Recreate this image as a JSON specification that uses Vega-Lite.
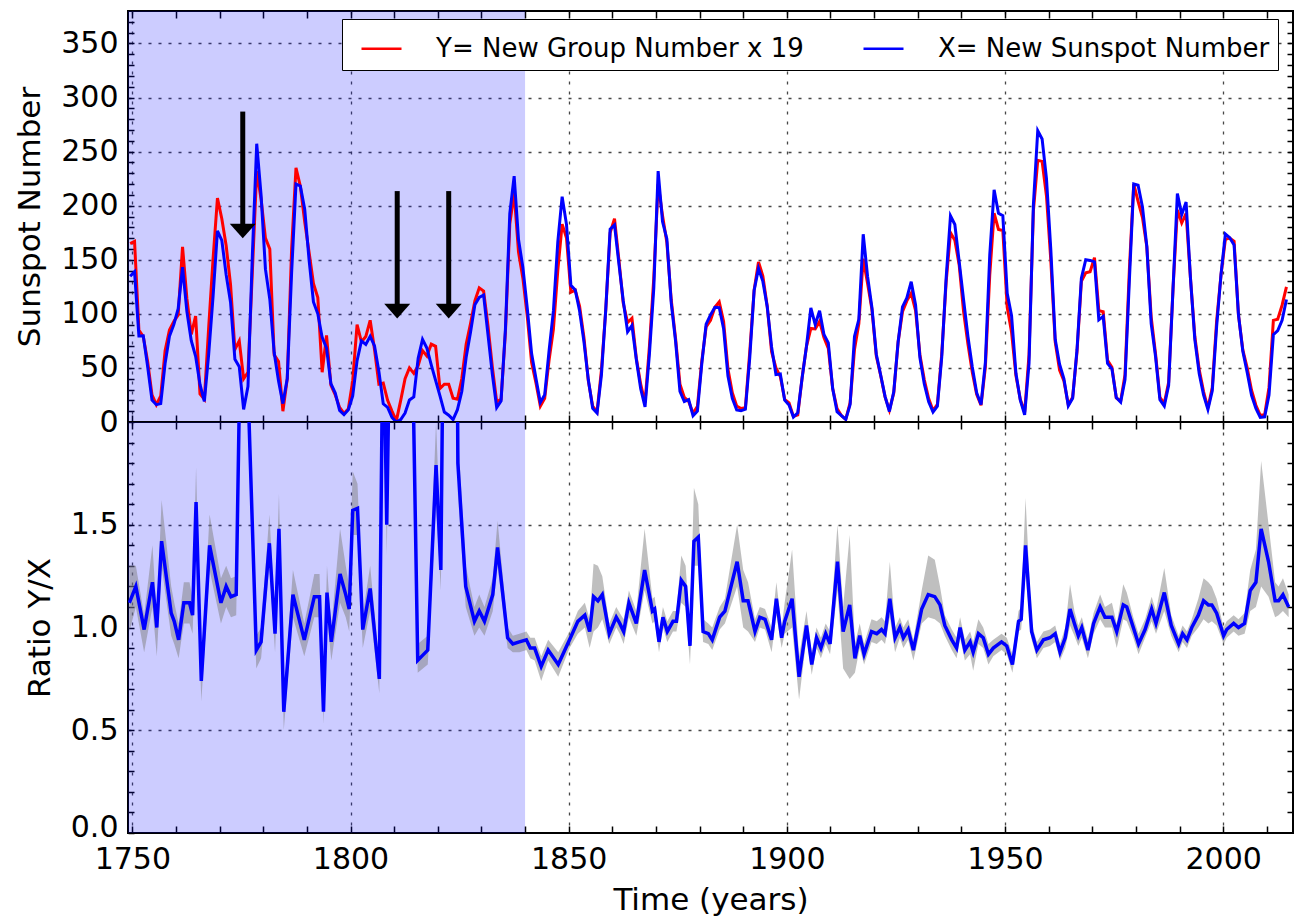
{
  "$schema": "https://vega.github.io/schema/vega-lite/v6.json",
  "padding": {"left": 13, "top": 9, "right": 4, "bottom": 0},
  "background": "white",
  "config": {
    "font": "DejaVu Sans",
    "view": {"stroke": "black", "strokeWidth": 2},
    "axis": {"domain": false, "labelColor": "black", "tickColor": "black", "titleColor": "black", "titleFontWeight": "normal", "labelFontSize": 30, "titleFontSize": 31, "tickWidth": 1.5, "gridColor": "#333333", "gridDash": [3, 7], "gridWidth": 1.3}
  },
  "bounds": "flush",
  "spacing": 0,
  "resolve": {"scale": {"color": "independent"}},
  "datasets": {
    "shade": [{"a": 1749, "b": 1840}],
    "arrows": [
      {"t": 1775.3, "top": 287, "head": 176.6},
      {"t": 1810.7, "top": 213.5, "head": 102.6},
      {"t": 1822.5, "top": 213.5, "head": 102.6}
    ],
    "ssn": [
      {"t":1749.5,"X":134.8,"Y":165},{"t":1750.5,"X":139.0,"Y":167},{"t":1751.5,"X":79.5,"Y":85},{"t":1752.5,"X":79.7,"Y":79},{"t":1753.5,"X":51.2,"Y":56},{"t":1754.5,"X":20.3,"Y":25},{"t":1755.5,"X":16.0,"Y":16},{"t":1756.5,"X":17.0,"Y":24},{"t":1757.5,"X":54.0,"Y":66},{"t":1758.5,"X":79.3,"Y":85},
      {"t":1759.5,"X":90.0,"Y":93},{"t":1760.5,"X":104.8,"Y":99},{"t":1761.5,"X":143.2,"Y":162},{"t":1762.5,"X":102.0,"Y":114},{"t":1763.5,"X":75.2,"Y":81},{"t":1764.5,"X":60.7,"Y":98},{"t":1765.5,"X":34.8,"Y":26},{"t":1766.5,"X":19.0,"Y":21},{"t":1767.5,"X":63.0,"Y":88},{"t":1768.5,"X":116.3,"Y":151},
      {"t":1769.5,"X":176.8,"Y":207},{"t":1770.5,"X":168.0,"Y":188},{"t":1771.5,"X":136.0,"Y":163},{"t":1772.5,"X":110.8,"Y":127},{"t":1773.5,"X":58.0,"Y":67},{"t":1774.5,"X":51.0,"Y":75},{"t":1775.5,"X":11.7,"Y":40},{"t":1776.5,"X":33.0,"Y":46},{"t":1777.5,"X":154.2,"Y":139},{"t":1778.5,"X":257.3,"Y":232},
      {"t":1779.5,"X":209.8,"Y":206},{"t":1780.5,"X":141.3,"Y":170},{"t":1781.5,"X":113.5,"Y":160},{"t":1782.5,"X":64.2,"Y":62},{"t":1783.5,"X":38.0,"Y":56},{"t":1784.5,"X":17.0,"Y":10},{"t":1785.5,"X":40.2,"Y":40},{"t":1786.5,"X":138.2,"Y":160},{"t":1787.5,"X":220.0,"Y":235},{"t":1788.5,"X":218.2,"Y":218},
      {"t":1789.5,"X":196.8,"Y":185},{"t":1790.5,"X":149.8,"Y":157},{"t":1791.5,"X":111.0,"Y":128},{"t":1792.5,"X":100.0,"Y":115},{"t":1793.5,"X":78.2,"Y":46},{"t":1794.5,"X":68.3,"Y":80},{"t":1795.5,"X":35.5,"Y":34},{"t":1796.5,"X":26.7,"Y":25},{"t":1797.5,"X":10.7,"Y":13.5},{"t":1798.5,"X":6.8,"Y":7.9},
      {"t":1799.5,"X":11.3,"Y":12.3},{"t":1800.5,"X":24.2,"Y":38},{"t":1801.5,"X":56.7,"Y":90},{"t":1802.5,"X":75.0,"Y":74},{"t":1803.5,"X":71.8,"Y":79},{"t":1804.5,"X":79.2,"Y":94},{"t":1805.5,"X":70.3,"Y":67},{"t":1806.5,"X":46.8,"Y":35},{"t":1807.5,"X":16.8,"Y":36},{"t":1808.5,"X":13.5,"Y":20},
      {"t":1809.5,"X":4.2,"Y":10},{"t":1810.5,"X":0.0,"Y":1},{"t":1811.5,"X":2.3,"Y":20},{"t":1812.5,"X":8.3,"Y":40},{"t":1813.5,"X":20.3,"Y":50},{"t":1814.5,"X":23.2,"Y":45},{"t":1815.5,"X":59.0,"Y":52},{"t":1816.5,"X":76.3,"Y":66},{"t":1817.5,"X":68.3,"Y":61},{"t":1818.5,"X":52.9,"Y":72},
      {"t":1819.5,"X":38.5,"Y":70},{"t":1820.5,"X":24.2,"Y":31},{"t":1821.5,"X":9.2,"Y":35},{"t":1822.5,"X":6.3,"Y":35},{"t":1823.5,"X":2.2,"Y":22},{"t":1824.5,"X":11.4,"Y":21},{"t":1825.5,"X":28.2,"Y":40},{"t":1826.5,"X":59.9,"Y":72},{"t":1827.5,"X":83.0,"Y":91},{"t":1828.5,"X":108.5,"Y":112},
      {"t":1829.5,"X":115.2,"Y":124},{"t":1830.5,"X":117.4,"Y":121},{"t":1831.5,"X":80.8,"Y":89},{"t":1832.5,"X":44.3,"Y":51},{"t":1833.5,"X":13.4,"Y":18.6},{"t":1834.5,"X":19.5,"Y":21},{"t":1835.5,"X":85.8,"Y":83},{"t":1836.5,"X":192.7,"Y":183},{"t":1837.5,"X":227.3,"Y":212},{"t":1838.5,"X":168.7,"Y":157},
      {"t":1839.5,"X":143.0,"Y":133},{"t":1840.5,"X":105.5,"Y":98},{"t":1841.5,"X":63.3,"Y":55},{"t":1842.5,"X":40.3,"Y":36},{"t":1843.5,"X":18.1,"Y":14.7},{"t":1844.5,"X":25.1,"Y":22},{"t":1845.5,"X":65.8,"Y":57},{"t":1846.5,"X":102.7,"Y":86},{"t":1847.5,"X":166.3,"Y":140},{"t":1848.5,"X":208.3,"Y":183},
      {"t":1849.5,"X":182.5,"Y":170},{"t":1850.5,"X":126.3,"Y":120},{"t":1851.5,"X":122.0,"Y":122},{"t":1852.5,"X":102.7,"Y":107},{"t":1853.5,"X":74.1,"Y":78},{"t":1854.5,"X":39.0,"Y":38},{"t":1855.5,"X":12.7,"Y":14.6},{"t":1856.5,"X":8.2,"Y":9.3},{"t":1857.5,"X":43.4,"Y":48},{"t":1858.5,"X":104.4,"Y":104},
      {"t":1859.5,"X":178.3,"Y":175},{"t":1860.5,"X":182.2,"Y":188},{"t":1861.5,"X":146.6,"Y":150},{"t":1862.5,"X":112.1,"Y":110},{"t":1863.5,"X":83.5,"Y":92},{"t":1864.5,"X":89.2,"Y":96},{"t":1865.5,"X":57.8,"Y":59},{"t":1866.5,"X":30.7,"Y":35},{"t":1867.5,"X":13.9,"Y":17.8},{"t":1868.5,"X":62.8,"Y":70},
      {"t":1869.5,"X":123.6,"Y":133},{"t":1870.5,"X":232.0,"Y":220},{"t":1871.5,"X":185.3,"Y":191},{"t":1872.5,"X":169.2,"Y":166},{"t":1873.5,"X":110.1,"Y":113},{"t":1874.5,"X":74.5,"Y":77},{"t":1875.5,"X":28.3,"Y":35},{"t":1876.5,"X":18.9,"Y":22.7},{"t":1877.5,"X":20.7,"Y":19},{"t":1878.5,"X":5.7,"Y":8.1},
      {"t":1879.5,"X":10.0,"Y":14.4},{"t":1880.5,"X":53.7,"Y":56},{"t":1881.5,"X":90.5,"Y":88},{"t":1882.5,"X":99.0,"Y":94},{"t":1883.5,"X":106.1,"Y":106},{"t":1884.5,"X":105.8,"Y":111},{"t":1885.5,"X":86.3,"Y":93},{"t":1886.5,"X":42.4,"Y":49},{"t":1887.5,"X":21.8,"Y":27},{"t":1888.5,"X":11.2,"Y":14.8},
      {"t":1889.5,"X":10.4,"Y":12.5},{"t":1890.5,"X":11.8,"Y":13.3},{"t":1891.5,"X":59.5,"Y":65},{"t":1892.5,"X":121.7,"Y":122},{"t":1893.5,"X":142.0,"Y":148},{"t":1894.5,"X":130.0,"Y":135},{"t":1895.5,"X":106.6,"Y":107},{"t":1896.5,"X":69.4,"Y":65},{"t":1897.5,"X":43.8,"Y":50},{"t":1898.5,"X":44.4,"Y":42},
      {"t":1899.5,"X":20.2,"Y":21},{"t":1900.5,"X":15.7,"Y":17.6},{"t":1901.5,"X":4.6,"Y":5.2},{"t":1902.5,"X":8.5,"Y":6.5},{"t":1903.5,"X":40.8,"Y":41},{"t":1904.5,"X":70.1,"Y":70},{"t":1905.5,"X":105.5,"Y":86.5},{"t":1906.5,"X":90.1,"Y":86},{"t":1907.5,"X":102.8,"Y":93},{"t":1908.5,"X":80.9,"Y":78},
      {"t":1909.5,"X":73.2,"Y":68},{"t":1910.5,"X":30.9,"Y":31},{"t":1911.5,"X":9.5,"Y":12.5},{"t":1912.5,"X":6.0,"Y":6},{"t":1913.5,"X":2.4,"Y":2.4},{"t":1914.5,"X":16.1,"Y":17.9},{"t":1915.5,"X":79.0,"Y":67},{"t":1916.5,"X":95.0,"Y":91},{"t":1917.5,"X":173.6,"Y":151},{"t":1918.5,"X":134.6,"Y":128},
      {"t":1919.5,"X":105.7,"Y":104},{"t":1920.5,"X":62.7,"Y":61},{"t":1921.5,"X":43.5,"Y":43},{"t":1922.5,"X":23.7,"Y":23.2},{"t":1923.5,"X":9.7,"Y":11},{"t":1924.5,"X":27.9,"Y":26.8},{"t":1925.5,"X":74.0,"Y":74},{"t":1926.5,"X":106.5,"Y":102},{"t":1927.5,"X":114.7,"Y":112},{"t":1928.5,"X":129.7,"Y":119},
      {"t":1929.5,"X":108.2,"Y":103},{"t":1930.5,"X":59.4,"Y":62},{"t":1931.5,"X":35.1,"Y":39},{"t":1932.5,"X":18.6,"Y":21.6},{"t":1933.5,"X":9.2,"Y":10.6},{"t":1934.5,"X":14.6,"Y":16.4},{"t":1935.5,"X":60.2,"Y":63},{"t":1936.5,"X":132.8,"Y":129},{"t":1937.5,"X":190.6,"Y":175},{"t":1938.5,"X":182.6,"Y":168},
      {"t":1939.5,"X":148.0,"Y":145},{"t":1940.5,"X":113.0,"Y":102},{"t":1941.5,"X":79.2,"Y":72},{"t":1942.5,"X":50.8,"Y":46},{"t":1943.5,"X":27.1,"Y":25.7},{"t":1944.5,"X":16.1,"Y":15.5},{"t":1945.5,"X":55.3,"Y":51},{"t":1946.5,"X":154.3,"Y":136},{"t":1947.5,"X":214.7,"Y":193},{"t":1948.5,"X":193.0,"Y":178},
      {"t":1949.5,"X":190.7,"Y":177},{"t":1950.5,"X":118.9,"Y":106},{"t":1951.5,"X":98.3,"Y":83},{"t":1952.5,"X":45.0,"Y":43},{"t":1953.5,"X":20.1,"Y":21},{"t":1954.5,"X":6.6,"Y":8.9},{"t":1955.5,"X":54.2,"Y":62},{"t":1956.5,"X":200.7,"Y":195},{"t":1957.5,"X":269.3,"Y":242},{"t":1958.5,"X":261.7,"Y":241},
      {"t":1959.5,"X":225.1,"Y":209},{"t":1960.5,"X":159.0,"Y":149},{"t":1961.5,"X":76.4,"Y":74},{"t":1962.5,"X":53.4,"Y":48},{"t":1963.5,"X":39.9,"Y":38},{"t":1964.5,"X":15.0,"Y":16},{"t":1965.5,"X":22.0,"Y":22.9},{"t":1966.5,"X":66.8,"Y":65},{"t":1967.5,"X":132.9,"Y":130},{"t":1968.5,"X":150.0,"Y":138},
      {"t":1969.5,"X":149.4,"Y":139},{"t":1970.5,"X":148.0,"Y":152},{"t":1971.5,"X":94.4,"Y":103},{"t":1972.5,"X":97.6,"Y":102},{"t":1973.5,"X":54.1,"Y":57},{"t":1974.5,"X":49.2,"Y":50.7},{"t":1975.5,"X":22.5,"Y":22.3},{"t":1976.5,"X":18.4,"Y":19.3},{"t":1977.5,"X":39.3,"Y":43.6},{"t":1978.5,"X":131.0,"Y":141},
      {"t":1979.5,"X":220.1,"Y":220},{"t":1980.5,"X":218.9,"Y":204},{"t":1981.5,"X":198.9,"Y":189},{"t":1982.5,"X":162.4,"Y":162},{"t":1983.5,"X":91.0,"Y":97},{"t":1984.5,"X":60.5,"Y":63},{"t":1985.5,"X":20.6,"Y":22.7},{"t":1986.5,"X":14.8,"Y":17.2},{"t":1987.5,"X":33.9,"Y":36.6},{"t":1988.5,"X":123.0,"Y":123},
      {"t":1989.5,"X":211.1,"Y":196},{"t":1990.5,"X":191.8,"Y":184},{"t":1991.5,"X":203.3,"Y":193},{"t":1992.5,"X":133.0,"Y":133},{"t":1993.5,"X":76.1,"Y":79},{"t":1994.5,"X":44.9,"Y":48.5},{"t":1995.5,"X":25.1,"Y":28.1},{"t":1996.5,"X":11.6,"Y":12.9},{"t":1997.5,"X":28.9,"Y":31.8},{"t":1998.5,"X":88.3,"Y":93.6},
      {"t":1999.5,"X":136.3,"Y":136},{"t":2000.5,"X":173.9,"Y":169},{"t":2001.5,"X":170.4,"Y":170},{"t":2002.5,"X":163.6,"Y":167},{"t":2003.5,"X":99.3,"Y":99},{"t":2004.5,"X":65.3,"Y":66.6},{"t":2005.5,"X":45.8,"Y":50},{"t":2006.5,"X":24.7,"Y":29.4},{"t":2007.5,"X":12.6,"Y":15.5},{"t":2008.5,"X":4.2,"Y":6.2},
      {"t":2009.5,"X":4.8,"Y":6.6},{"t":2010.5,"X":24.9,"Y":32},{"t":2011.5,"X":80.8,"Y":94},{"t":2012.5,"X":84.5,"Y":95},{"t":2013.5,"X":94.0,"Y":108},{"t":2014.5,"X":113.3,"Y":125}
    ],
    "ratio": [
      {"t":1749.3,"r":1.12,"lo":0.98,"hi":1.30},{"t":1750.8,"r":1.20,"lo":1.10,"hi":1.30},{"t":1752.7,"r":0.99,"lo":0.88,"hi":1.06},{"t":1754.6,"r":1.22,"lo":1.10,"hi":1.40},{"t":1755.6,"r":1.00,"lo":0.86,"hi":1.06},{"t":1756.7,"r":1.42,"lo":1.30,"hi":1.62},{"t":1758.9,"r":1.07,"lo":0.96,"hi":1.20},{"t":1759.6,"r":1.03,"lo":0.92,"hi":1.12},{"t":1760.6,"r":0.94,"lo":0.85,"hi":1.02},{"t":1761.8,"r":1.12,"lo":1.02,"hi":1.22},
      {"t":1763.1,"r":1.12,"lo":1.02,"hi":1.22},{"t":1763.8,"r":1.06,"lo":0.97,"hi":1.14},{"t":1764.6,"r":1.61,"lo":1.45,"hi":1.78},{"t":1765.8,"r":0.74,"lo":0.64,"hi":0.80},{"t":1767.7,"r":1.40,"lo":1.28,"hi":1.55},{"t":1770.3,"r":1.12,"lo":1.02,"hi":1.24},{"t":1771.5,"r":1.20,"lo":1.10,"hi":1.30},{"t":1772.6,"r":1.15,"lo":1.05,"hi":1.24},{"t":1773.8,"r":1.16,"lo":1.06,"hi":1.25},{"t":1774.9,"r":2.6,"lo":2.4,"hi":2.8},
      {"t":1776.3,"r":2.3,"lo":2.1,"hi":2.5},{"t":1778.4,"r":0.89,"lo":0.80,"hi":0.96},{"t":1779.5,"r":0.93,"lo":0.85,"hi":1.00},{"t":1781.4,"r":1.41,"lo":1.30,"hi":1.55},{"t":1782.7,"r":0.97,"lo":0.88,"hi":1.05},{"t":1783.6,"r":1.48,"lo":1.35,"hi":1.65},{"t":1784.7,"r":0.59,"lo":0.50,"hi":0.66},{"t":1786.8,"r":1.16,"lo":1.05,"hi":1.28},{"t":1789.4,"r":0.94,"lo":0.86,"hi":1.02},{"t":1791.7,"r":1.15,"lo":1.05,"hi":1.26},
      {"t":1792.9,"r":1.15,"lo":1.05,"hi":1.26},{"t":1793.8,"r":0.59,"lo":0.53,"hi":0.65},{"t":1794.6,"r":1.17,"lo":1.06,"hi":1.30},{"t":1795.6,"r":0.93,"lo":0.84,"hi":1.00},{"t":1797.6,"r":1.26,"lo":1.12,"hi":1.48},{"t":1798.9,"r":1.16,"lo":1.05,"hi":1.30},{"t":1799.7,"r":1.09,"lo":0.98,"hi":1.20},{"t":1800.5,"r":1.57,"lo":1.45,"hi":1.76},{"t":1801.6,"r":1.58,"lo":1.45,"hi":1.70},{"t":1802.8,"r":0.99,"lo":0.90,"hi":1.06},
      {"t":1804.5,"r":1.19,"lo":1.08,"hi":1.30},{"t":1806.6,"r":0.75,"lo":0.68,"hi":0.82},{"t":1807.5,"r":2.6,"lo":2.4,"hi":2.8},{"t":1808.3,"r":1.50,"lo":1.35,"hi":1.65},{"t":1809.1,"r":2.6,"lo":2.4,"hi":2.8},{"t":1814.0,"r":2.6,"lo":2.4,"hi":2.8},{"t":1815.4,"r":0.84,"lo":0.78,"hi":0.92},{"t":1817.7,"r":0.89,"lo":0.82,"hi":0.96},{"t":1819.6,"r":1.79,"lo":1.60,"hi":2.00},{"t":1820.7,"r":1.28,"lo":1.18,"hi":1.40},
      {"t":1821.3,"r":2.6,"lo":2.4,"hi":2.8},{"t":1824.4,"r":2.6,"lo":2.4,"hi":2.8},{"t":1824.6,"r":1.80,"lo":1.65,"hi":1.95},{"t":1826.4,"r":1.20,"lo":1.10,"hi":1.30},{"t":1828.4,"r":1.03,"lo":0.96,"hi":1.10},{"t":1829.5,"r":1.08,"lo":1.00,"hi":1.16},{"t":1830.7,"r":1.03,"lo":0.96,"hi":1.10},{"t":1832.6,"r":1.16,"lo":1.08,"hi":1.24},{"t":1833.7,"r":1.39,"lo":1.30,"hi":1.52},{"t":1836.0,"r":0.95,"lo":0.90,"hi":1.00},
      {"t":1837.2,"r":0.92,"lo":0.88,"hi":0.96},{"t":1838.7,"r":0.93,"lo":0.88,"hi":0.97},{"t":1840.3,"r":0.94,"lo":0.89,"hi":0.98},{"t":1841.2,"r":0.90,"lo":0.85,"hi":0.95},{"t":1842.2,"r":0.90,"lo":0.84,"hi":0.95},{"t":1843.7,"r":0.81,"lo":0.74,"hi":0.86},{"t":1845.3,"r":0.89,"lo":0.84,"hi":0.94},{"t":1847.6,"r":0.82,"lo":0.76,"hi":0.88},{"t":1850.2,"r":0.94,"lo":0.90,"hi":0.98},{"t":1852.1,"r":1.03,"lo":0.97,"hi":1.08},
      {"t":1853.7,"r":1.06,"lo":1.00,"hi":1.12},{"t":1854.8,"r":0.98,"lo":0.90,"hi":1.04},{"t":1855.7,"r":1.15,"lo":0.98,"hi":1.31},{"t":1856.7,"r":1.13,"lo":1.00,"hi":1.30},{"t":1857.7,"r":1.16,"lo":1.04,"hi":1.25},{"t":1859.3,"r":0.97,"lo":0.92,"hi":1.02},{"t":1860.9,"r":1.05,"lo":1.00,"hi":1.10},{"t":1861.7,"r":1.02,"lo":0.97,"hi":1.07},{"t":1862.6,"r":0.98,"lo":0.92,"hi":1.04},{"t":1863.8,"r":1.12,"lo":1.05,"hi":1.18},
      {"t":1865.5,"r":1.02,"lo":0.96,"hi":1.08},{"t":1867.4,"r":1.28,"lo":1.18,"hi":1.48},{"t":1869.2,"r":1.08,"lo":1.02,"hi":1.14},{"t":1869.7,"r":1.09,"lo":1.03,"hi":1.15},{"t":1870.7,"r":0.93,"lo":0.88,"hi":0.98},{"t":1871.6,"r":1.05,"lo":1.00,"hi":1.10},{"t":1872.6,"r":0.98,"lo":0.93,"hi":1.03},{"t":1873.9,"r":1.03,"lo":0.98,"hi":1.08},{"t":1874.7,"r":1.03,"lo":0.98,"hi":1.08},{"t":1875.8,"r":1.23,"lo":1.12,"hi":1.35},
      {"t":1876.8,"r":1.20,"lo":1.10,"hi":1.30},{"t":1877.8,"r":0.91,"lo":0.82,"hi":0.98},{"t":1878.7,"r":1.42,"lo":1.30,"hi":1.68},{"t":1879.7,"r":1.44,"lo":1.30,"hi":1.60},{"t":1880.8,"r":0.98,"lo":0.93,"hi":1.04},{"t":1882.0,"r":0.97,"lo":0.92,"hi":1.02},{"t":1882.9,"r":0.94,"lo":0.89,"hi":1.00},{"t":1884.6,"r":1.05,"lo":0.99,"hi":1.10},{"t":1885.8,"r":1.08,"lo":1.02,"hi":1.14},{"t":1888.6,"r":1.32,"lo":1.20,"hi":1.50},
      {"t":1890.0,"r":1.13,"lo":1.00,"hi":1.28},{"t":1891.1,"r":1.13,"lo":0.98,"hi":1.22},{"t":1892.7,"r":0.98,"lo":0.93,"hi":1.04},{"t":1893.8,"r":1.05,"lo":1.00,"hi":1.10},{"t":1895.0,"r":1.04,"lo":0.99,"hi":1.09},{"t":1896.5,"r":0.94,"lo":0.88,"hi":1.00},{"t":1897.6,"r":1.14,"lo":1.06,"hi":1.22},{"t":1898.8,"r":0.95,"lo":0.90,"hi":1.00},{"t":1899.5,"r":1.03,"lo":0.97,"hi":1.12},{"t":1901.2,"r":1.14,"lo":1.00,"hi":1.38},
      {"t":1902.8,"r":0.76,"lo":0.65,"hi":0.86},{"t":1904.5,"r":1.01,"lo":0.95,"hi":1.08},{"t":1905.7,"r":0.82,"lo":0.77,"hi":0.88},{"t":1906.8,"r":0.95,"lo":0.90,"hi":1.00},{"t":1907.8,"r":0.90,"lo":0.85,"hi":0.95},{"t":1908.9,"r":0.97,"lo":0.92,"hi":1.02},{"t":1909.9,"r":0.92,"lo":0.87,"hi":0.98},{"t":1911.6,"r":1.32,"lo":1.18,"hi":1.50},{"t":1912.9,"r":0.98,"lo":0.80,"hi":1.10},{"t":1914.4,"r":1.11,"lo":0.75,"hi":1.45},
      {"t":1915.6,"r":0.85,"lo":0.78,"hi":0.92},{"t":1916.7,"r":0.96,"lo":0.90,"hi":1.02},{"t":1917.7,"r":0.87,"lo":0.82,"hi":0.92},{"t":1919.4,"r":0.98,"lo":0.93,"hi":1.04},{"t":1920.6,"r":0.97,"lo":0.92,"hi":1.03},{"t":1921.7,"r":0.99,"lo":0.94,"hi":1.05},{"t":1922.5,"r":0.97,"lo":0.92,"hi":1.03},{"t":1923.6,"r":1.14,"lo":1.05,"hi":1.32},{"t":1924.8,"r":0.95,"lo":0.88,"hi":1.00},{"t":1925.9,"r":1.00,"lo":0.95,"hi":1.05},
      {"t":1926.7,"r":0.95,"lo":0.90,"hi":1.00},{"t":1927.8,"r":0.99,"lo":0.94,"hi":1.04},{"t":1929.0,"r":0.89,"lo":0.84,"hi":0.94},{"t":1930.9,"r":1.09,"lo":1.02,"hi":1.18},{"t":1932.4,"r":1.16,"lo":1.05,"hi":1.35},{"t":1933.9,"r":1.15,"lo":1.04,"hi":1.33},{"t":1935.1,"r":1.11,"lo":1.02,"hi":1.20},{"t":1936.2,"r":1.01,"lo":0.96,"hi":1.06},{"t":1937.8,"r":0.94,"lo":0.89,"hi":0.99},{"t":1938.9,"r":0.90,"lo":0.85,"hi":0.95},
      {"t":1939.7,"r":1.00,"lo":0.95,"hi":1.05},{"t":1940.8,"r":0.89,"lo":0.84,"hi":0.94},{"t":1942.0,"r":0.93,"lo":0.87,"hi":0.98},{"t":1942.7,"r":0.88,"lo":0.79,"hi":0.93},{"t":1943.9,"r":0.97,"lo":0.92,"hi":1.04},{"t":1945.0,"r":0.95,"lo":0.90,"hi":1.00},{"t":1946.2,"r":0.87,"lo":0.82,"hi":0.92},{"t":1947.3,"r":0.90,"lo":0.86,"hi":0.94},{"t":1949.2,"r":0.93,"lo":0.89,"hi":0.97},{"t":1950.4,"r":0.91,"lo":0.87,"hi":0.95},
      {"t":1951.7,"r":0.82,"lo":0.78,"hi":0.87},{"t":1953.1,"r":1.03,"lo":0.98,"hi":1.08},{"t":1953.7,"r":1.04,"lo":0.99,"hi":1.10},{"t":1954.7,"r":1.40,"lo":1.25,"hi":1.63},{"t":1956.1,"r":0.98,"lo":0.94,"hi":1.02},{"t":1957.3,"r":0.89,"lo":0.85,"hi":0.93},{"t":1958.8,"r":0.94,"lo":0.90,"hi":0.98},{"t":1960.3,"r":0.95,"lo":0.91,"hi":0.99},{"t":1961.5,"r":0.97,"lo":0.93,"hi":1.01},{"t":1962.6,"r":0.88,"lo":0.84,"hi":0.92},
      {"t":1963.8,"r":0.95,"lo":0.90,"hi":1.00},{"t":1964.9,"r":1.09,"lo":1.01,"hi":1.21},{"t":1965.9,"r":1.02,"lo":0.96,"hi":1.08},{"t":1966.8,"r":0.96,"lo":0.91,"hi":1.01},{"t":1967.6,"r":1.00,"lo":0.95,"hi":1.05},{"t":1969.0,"r":0.89,"lo":0.85,"hi":0.94},{"t":1970.3,"r":1.02,"lo":0.97,"hi":1.07},{"t":1971.8,"r":1.10,"lo":1.04,"hi":1.16},{"t":1972.9,"r":1.05,"lo":1.00,"hi":1.10},{"t":1974.5,"r":1.05,"lo":1.00,"hi":1.12},
      {"t":1975.6,"r":0.98,"lo":0.90,"hi":1.02},{"t":1977.1,"r":1.11,"lo":1.04,"hi":1.21},{"t":1977.9,"r":1.10,"lo":1.03,"hi":1.17},{"t":1979.4,"r":1.00,"lo":0.95,"hi":1.05},{"t":1980.6,"r":0.92,"lo":0.87,"hi":0.97},{"t":1982.1,"r":0.99,"lo":0.95,"hi":1.04},{"t":1983.6,"r":1.09,"lo":1.03,"hi":1.15},{"t":1984.6,"r":1.02,"lo":0.97,"hi":1.08},{"t":1986.5,"r":1.17,"lo":1.08,"hi":1.29},{"t":1988.1,"r":1.01,"lo":0.96,"hi":1.06},
      {"t":1989.8,"r":0.92,"lo":0.88,"hi":0.96},{"t":1990.7,"r":0.97,"lo":0.93,"hi":1.01},{"t":1991.7,"r":0.94,"lo":0.90,"hi":0.98},{"t":1992.8,"r":1.00,"lo":0.96,"hi":1.04},{"t":1994.3,"r":1.06,"lo":1.00,"hi":1.14},{"t":1995.5,"r":1.13,"lo":1.04,"hi":1.24},{"t":1996.6,"r":1.11,"lo":1.02,"hi":1.22},{"t":1997.4,"r":1.11,"lo":1.03,"hi":1.20},{"t":1998.5,"r":1.07,"lo":1.01,"hi":1.14},{"t":2000.1,"r":0.96,"lo":0.92,"hi":1.00},
      {"t":2000.8,"r":0.99,"lo":0.95,"hi":1.03},{"t":2002.4,"r":1.02,"lo":0.98,"hi":1.06},{"t":2003.5,"r":1.00,"lo":0.96,"hi":1.04},{"t":2004.9,"r":1.02,"lo":0.97,"hi":1.07},{"t":2006.2,"r":1.18,"lo":1.08,"hi":1.28},{"t":2007.5,"r":1.22,"lo":1.10,"hi":1.38},{"t":2008.7,"r":1.48,"lo":1.20,"hi":1.81},{"t":2010.4,"r":1.32,"lo":1.15,"hi":1.50},{"t":2011.9,"r":1.13,"lo":1.05,"hi":1.22},{"t":2012.7,"r":1.13,"lo":1.06,"hi":1.20},
      {"t":2013.7,"r":1.16,"lo":1.08,"hi":1.24},{"t":2015.0,"r":1.10,"lo":1.05,"hi":1.16}
    ]
  },
  "vconcat": [
    {
      "width": 1165,
      "height": 411,
      "resolve": {"axis": {"x": "independent", "y": "independent"}},
      "layer": [
        {
          "data": {"name": "shade"},
          "mark": {"type": "rect", "color": "#0000ff", "opacity": 0.2},
          "encoding": {
            "x": {"field": "a", "type": "quantitative", "scale": {"domain": [1749, 2016], "nice": false, "zero": false},
                  "axis": {"orient": "top", "title": null, "labels": false, "grid": false, "tickSize": -7, "values": [1750,1760,1770,1780,1790,1800,1810,1820,1830,1840,1850,1860,1870,1880,1890,1900,1910,1920,1930,1940,1950,1960,1970,1980,1990,2000,2010]}},
            "x2": {"field": "b"}
          }
        },
        {
          "data": {"name": "ssn"},
          "mark": {"type": "line", "strokeWidth": 3, "clip": true},
          "encoding": {
            "x": {"field": "t", "type": "quantitative", "axis": null},
            "y": {"field": "Y", "type": "quantitative", "scale": {"domain": [0, 380], "nice": false},
                  "axis": {"orient": "right", "title": null, "labels": false, "grid": false, "tickSize": -6, "values": [10,20,30,40,50,60,70,80,90,100,110,120,130,140,150,160,170,180,190,200,210,220,230,240,250,260,270,280,290,300,310,320,330,340,350,360,370]}},
            "color": {"datum": "Y= New Group Number x 19", "type": "nominal",
                      "scale": {"domain": ["Y= New Group Number x 19", "X= New Sunspot Number"], "range": ["#ff0000", "#0000ff"]},
                      "legend": {"orient": "none", "legendX": 214, "legendY": 8, "direction": "horizontal", "title": null,
                                 "symbolType": "stroke", "symbolSize": 1600, "symbolStrokeWidth": 2.5, "labelFontSize": 26, "labelColor": "black", "labelLimit": 0,
                                 "labelOffset": 33, "columnPadding": 48, "padding": 8, "symbolOffset": 10, "strokeColor": "black", "fillColor": "white", "cornerRadius": 0}}
          }
        },
        {
          "data": {"name": "ssn"},
          "mark": {"type": "line", "strokeWidth": 3, "clip": true},
          "encoding": {
            "x": {"field": "t", "type": "quantitative",
                  "axis": {"orient": "bottom", "title": null, "labels": false, "grid": true, "tickSize": -7, "values": [1750,1760,1770,1780,1790,1800,1810,1820,1830,1840,1850,1860,1870,1880,1890,1900,1910,1920,1930,1940,1950,1960,1970,1980,1990,2000,2010],
                           "gridOpacity": {"condition": {"test": "datum.value % 50 === 0", "value": 0.9}, "value": 0}}},
            "y": {"field": "X", "type": "quantitative",
                  "axis": {"orient": "left", "title": "Sunspot Number", "grid": true, "tickSize": -6, "labelPadding": 16, "titlePadding": 14,
                           "values": [0,10,20,30,40,50,60,70,80,90,100,110,120,130,140,150,160,170,180,190,200,210,220,230,240,250,260,270,280,290,300,310,320,330,340,350,360,370],
                           "labelExpr": "datum.value % 50 === 0 ? datum.label : ''",
                           "gridOpacity": {"condition": {"test": "datum.value % 50 === 0 && datum.value > 0", "value": 0.9}, "value": 0}}},
            "color": {"datum": "X= New Sunspot Number", "type": "nominal"}
          }
        },
        {
          "data": {"name": "arrows"},
          "mark": {"type": "rule", "color": "black", "strokeWidth": 5},
          "encoding": {
            "x": {"field": "t", "type": "quantitative", "axis": null},
            "y": {"field": "top", "type": "quantitative", "axis": null},
            "y2": {"field": "head"}
          }
        },
        {
          "data": {"name": "arrows"},
          "mark": {"type": "point", "shape": "M-1,-0.565L1,-0.565L0,0.565Z", "size": 676, "filled": true, "color": "black", "opacity": 1},
          "encoding": {
            "x": {"field": "t", "type": "quantitative", "axis": null},
            "y": {"field": "head", "type": "quantitative", "axis": null}
          }
        }
      ]
    },
    {
      "width": 1165,
      "height": 411,
      "resolve": {"axis": {"x": "independent", "y": "independent"}},
      "layer": [
        {
          "data": {"name": "shade"},
          "mark": {"type": "rect", "color": "#0000ff", "opacity": 0.2},
          "encoding": {
            "x": {"field": "a", "type": "quantitative", "scale": {"domain": [1749, 2016], "nice": false, "zero": false},
                  "axis": {"orient": "top", "title": null, "labels": false, "grid": false, "tickSize": -7, "values": [1750,1760,1770,1780,1790,1800,1810,1820,1830,1840,1850,1860,1870,1880,1890,1900,1910,1920,1930,1940,1950,1960,1970,1980,1990,2000,2010]}},
            "x2": {"field": "b"}
          }
        },
        {
          "data": {"name": "ratio"},
          "mark": {"type": "area", "color": "#808080", "opacity": 0.5, "clip": true},
          "encoding": {
            "x": {"field": "t", "type": "quantitative", "axis": null},
            "y": {"field": "lo", "type": "quantitative", "scale": {"domain": [0, 2], "nice": false},
                  "axis": {"orient": "right", "title": null, "labels": false, "grid": false, "tickSize": -6, "values": [0.1,0.2,0.3,0.4,0.5,0.6,0.7,0.8,0.9,1.0,1.1,1.2,1.3,1.4,1.5,1.6,1.7,1.8,1.9]}},
            "y2": {"field": "hi"}
          }
        },
        {
          "mark": {"type": "rule", "color": "black", "strokeWidth": 2},
          "encoding": {"y": {"datum": 1, "type": "quantitative", "axis": null}}
        },
        {
          "data": {"name": "ratio"},
          "mark": {"type": "line", "color": "#0000ff", "strokeWidth": 3.5, "clip": true},
          "encoding": {
            "x": {"field": "t", "type": "quantitative",
                  "axis": {"orient": "bottom", "title": "Time (years)", "format": "d", "grid": true, "tickSize": -7, "labelPadding": 18, "titlePadding": 11,
                           "values": [1750,1760,1770,1780,1790,1800,1810,1820,1830,1840,1850,1860,1870,1880,1890,1900,1910,1920,1930,1940,1950,1960,1970,1980,1990,2000,2010],
                           "labelExpr": "datum.value % 50 === 0 ? datum.label : ''",
                           "gridOpacity": {"condition": {"test": "datum.value % 50 === 0", "value": 0.9}, "value": 0}}},
            "y": {"field": "r", "type": "quantitative",
                  "axis": {"orient": "left", "title": "Ratio Y/X", "format": ".1f", "grid": true, "tickSize": -6, "labelPadding": 16, "titlePadding": 14,
                           "values": [0,0.1,0.2,0.3,0.4,0.5,0.6,0.7,0.8,0.9,1.0,1.1,1.2,1.3,1.4,1.5,1.6,1.7,1.8,1.9],
                           "labelExpr": "abs(datum.value*2 - round(datum.value*2)) < 0.001 ? datum.label : ''",
                           "labelOffset": {"condition": {"test": "datum.value === 0", "value": -6}, "value": 0},
                           "gridOpacity": {"condition": {"test": "abs(datum.value - 0.5) < 0.001 || abs(datum.value - 1.5) < 0.001", "value": 0.9}, "value": 0}}}
          }
        }
      ]
    }
  ]
}
